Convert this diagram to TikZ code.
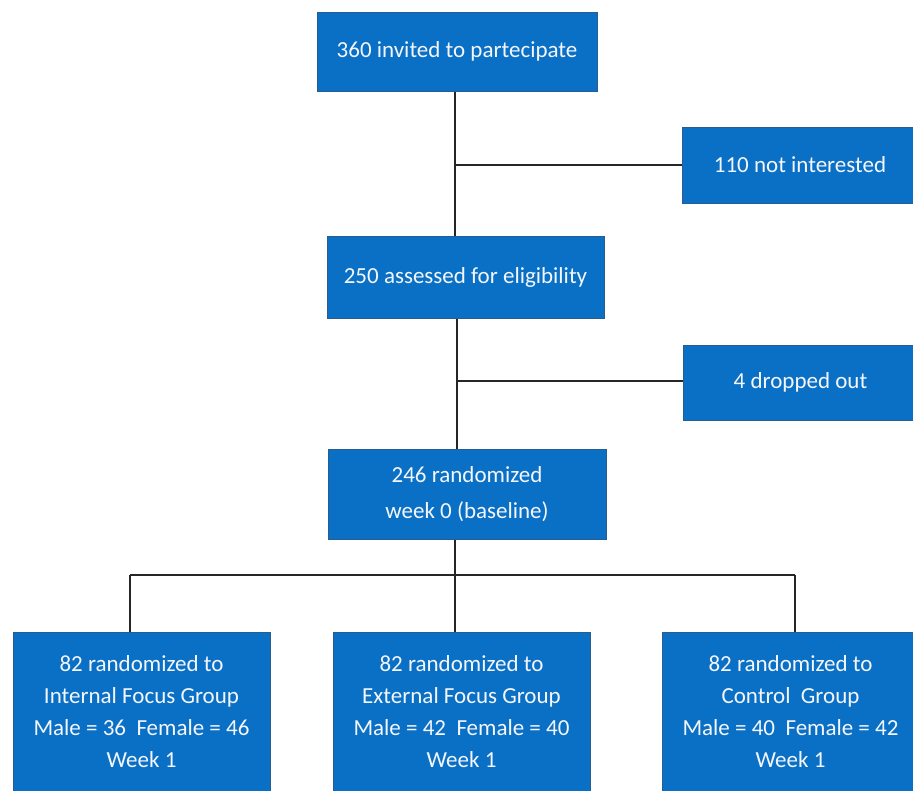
\documentclass[tikz,border=0pt]{standalone}
\usepackage{fontspec}
\setmainfont{Carlito}
\definecolor{boxblue}{HTML}{0A70C6}
\definecolor{boxedge}{HTML}{2B5C8E}
\definecolor{txt}{HTML}{F4F6FA}
\begin{document}
\begin{tikzpicture}[x=1pt,y=-1pt,
  box/.style={draw=boxedge, line width=1pt, fill=boxblue, text=txt,
    font=\fontsize{23}{27}\selectfont, inner sep=0pt, align=center},
  link/.style={draw=black!85, line width=1.2pt}]
\useasboundingbox (0,0) rectangle (913,790);
\clip (0,0) rectangle (913,790);
\node[box, minimum width=280pt, minimum height=79pt] (invited) at (457,51.5) {360 invited to partecipate};
\node[box, minimum width=236pt, minimum height=76pt] (notint) at (800,165) {110 not interested};
\node[box, minimum width=277pt, minimum height=82pt] (elig) at (465.5,277) {250 assessed for eligibility};
\node[box, minimum width=235pt, minimum height=75pt] (drop) at (800.5,382.5) {4 dropped out};
\node[box, minimum width=278pt, minimum height=90pt, font=\fontsize{23}{36}\selectfont] (rand) at (467,494) {246 randomized\\week 0 (baseline)};
\node[box, minimum width=257pt, minimum height=160pt, font=\fontsize{23}{32}\selectfont] (ifg) at (141.5,712) {82 randomized to\\Internal Focus Group\\Male = 36~~Female = 46\\Week 1};
\node[box, minimum width=257pt, minimum height=160pt, font=\fontsize{23}{32}\selectfont] (efg) at (461.5,712) {82 randomized to\\External Focus Group\\Male = 42~~Female = 40\\Week 1};
\node[box, minimum width=257pt, minimum height=160pt, font=\fontsize{23}{32}\selectfont] (cg) at (790.5,712) {82 randomized to\\Control~~Group\\Male = 40~~Female = 42\\Week 1};
\coordinate (j1) at (455,165);
\coordinate (j2) at (457,381);
\coordinate (j3) at (455,575);
\coordinate (l3) at (130,575);
\coordinate (r3) at (795,575);
\draw[link] (invited.south -| j1) -- (elig.north -| j1);
\draw[link] (j1) -- (notint.west |- j1);
\draw[link] (elig.south -| j2) -- (rand.north -| j2);
\draw[link] (j2) -- (drop.west |- j2);
\draw[link] (rand.south -| j3) -- (efg.north -| j3);
\draw[link] (l3) -- (r3);
\draw[link] (l3) -- (ifg.north -| l3);
\draw[link] (r3) -- (cg.north -| r3);
\end{tikzpicture}
\end{document}
